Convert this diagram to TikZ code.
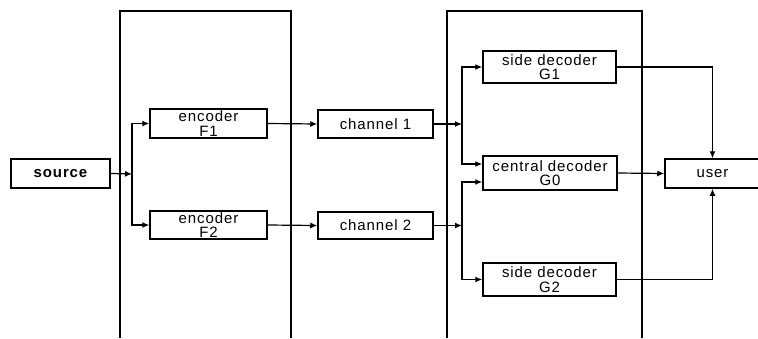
\documentclass[tikz,border=0pt]{standalone}
\usepackage{fontspec}
\setmainfont[LetterSpace=6]{Liberation Sans}
\usetikzlibrary{arrows.meta}

\tikzset{
  blk/.style={draw, line width=1.5pt, align=center, inner sep=0pt,
    font=\fontsize{15}{14.5}\selectfont},
  frame/.style={line width=1.6pt},
  link/.style={line width=1.2pt, -{Latex[length=7pt,width=6pt]}}
}

\begin{document}
\begin{tikzpicture}[x=1pt, y=-1pt]
  \useasboundingbox (0,0) rectangle (758,338);
  % encoder and decoder sides
  \draw[frame] (120,338) |- (291,11) -- (291,338);
  \draw[frame] (447,338) |- (642,11) -- (642,338);

  \node[blk, minimum width=99pt, minimum height=29pt, font=\fontsize{15}{14.5}\selectfont\bfseries] (src) at (60.5,173.5) {source};
  \node[blk, minimum width=117pt, minimum height=29pt] (F1) at (208.5,123.5) {encoder\\F1};
  \node[blk, minimum width=117pt, minimum height=28pt] (F2) at (208.5,225) {encoder\\F2};
  \node[blk, minimum width=115pt, minimum height=28pt] (ch1) at (375.5,124) {channel 1};
  \node[blk, minimum width=115pt, minimum height=27pt] (ch2) at (375.5,225.5) {channel 2};
  \node[blk, minimum width=133pt, minimum height=32pt] (G1) at (549.5,67) {side decoder\\G1};
  \node[blk, minimum width=134pt, minimum height=34pt] (G0) at (550,173) {central decoder\\G0};
  \node[blk, minimum width=133pt, minimum height=33pt] (G2) at (549.5,279.5) {side decoder\\G2};
  \node[blk, minimum width=95pt, minimum height=29pt] (usr) at (712.5,173.5) {user};

  \coordinate (s) at (132,174);
  \coordinate (c1) at (462,124);
  \coordinate (c2) at (462,225.5);

  \draw[link] (src.east) -- (s);
  \draw[link] (s) |- (F1.west);
  \draw[link] (s) |- (F2.west);
  \draw[link] (F1.east) -- (ch1.west);
  \draw[link] (F2.east) -- (ch2.west);
  \draw[link] (ch1.east) -- (c1);
  \draw[link] (ch2.east) -- (c2);
  \draw[link] (c1) |- (G1.west);
  \draw[link] (c1) |- ([yshift=9pt]G0.west);
  \draw[link] (c2) |- ([yshift=-9pt]G0.west);
  \draw[link] (c2) |- (G2.west);
  \draw[link] (G1.east) -| (usr.north);
  \draw[link] (G0.east) -- (usr.west);
  \draw[link] (G2.east) -| (usr.south);
\end{tikzpicture}
\end{document}
